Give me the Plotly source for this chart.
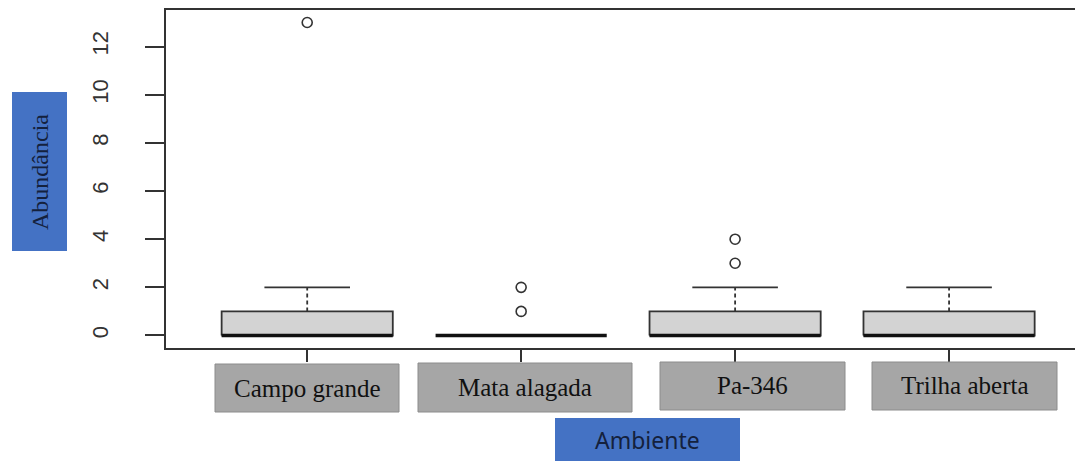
import plotly.graph_objects as go

# ---- data ----
categories = ["Campo grande", "Mata alagada", "Pa-346", "Trilha aberta"]
q1 = [0, 0, 0, 0]
median = [0, 0, 0, 0]
q3 = [1, 0, 1, 1]
whisker_low = [0, 0, 0, 0]
whisker_high = [2, 0, 2, 2]
outliers = [[13], [1, 2], [3, 4], []]
y_ticks = [0, 2, 4, 6, 8, 10, 12]
y_title = "Abundância"
x_title = "Ambiente"

OFF = 8  # default page body margin
W, H = 1083 - OFF, 461 - OFF
L, R, T, B = 166 - OFF, 0, 10 - OFF, 461 - 348
PW, PH = W - L - R, H - T - B

def px(x):
    return (x - OFF - L) / PW

def py(y):
    return (H - B - (y - OFF)) / PH

fig = go.Figure()
pos = list(range(1, len(categories) + 1))
half = 0.4
cap = 0.2
line_col = "#333333"

for i, p in enumerate(pos):
    if q3[i] > q1[i]:
        fig.add_trace(go.Scatter(
            x=[p - half, p + half, p + half, p - half, p - half],
            y=[q1[i], q1[i], q3[i], q3[i], q1[i]],
            mode="lines", fill="toself", fillcolor="#d3d3d3",
            line=dict(color=line_col, width=1.8), hoverinfo="skip", showlegend=False))
    if whisker_high[i] > q3[i]:
        fig.add_trace(go.Scatter(x=[p, p], y=[q3[i], whisker_high[i]], mode="lines",
                                 line=dict(color=line_col, width=1.8, dash="4px,3px"),
                                 hoverinfo="skip", showlegend=False))
        fig.add_trace(go.Scatter(x=[p - cap, p + cap], y=[whisker_high[i]] * 2, mode="lines",
                                 line=dict(color=line_col, width=1.6),
                                 hoverinfo="skip", showlegend=False))
    fig.add_trace(go.Scatter(x=[p - half, p + half], y=[median[i]] * 2, mode="lines",
                             line=dict(color="#111111", width=3.5),
                             hoverinfo="skip", showlegend=False))
    if outliers[i]:
        fig.add_trace(go.Scatter(x=[p] * len(outliers[i]), y=outliers[i], mode="markers",
                                 marker=dict(symbol="circle-open", size=10, color=line_col,
                                             line=dict(color=line_col, width=1.6)),
                                 hoverinfo="skip", showlegend=False))

shapes = []
annotations = []

# gray category label boxes (reference pixel rectangles)
label_boxes = [(215, 364, 399, 412), (418, 363, 632, 412), (660, 362, 845, 410), (872, 362, 1057, 410)]
for (x0, y0, x1, y1), cat in zip(label_boxes, categories):
    shapes.append(dict(type="rect", xref="paper", yref="paper",
                       x0=px(x0), x1=px(x1), y0=py(y1), y1=py(y0),
                       fillcolor="#a6a6a6", line=dict(color="#8c8c8c", width=1), layer="above"))
    annotations.append(dict(text=cat, xref="paper", yref="paper",
                            x=px((x0 + x1) / 2), y=py((y0 + y1) / 2),
                            xanchor="center", yanchor="middle", showarrow=False,
                            font=dict(family="Liberation Serif", size=25, color="#111111")))

# blue title boxes
shapes.append(dict(type="rect", xref="paper", yref="paper",
                   x0=px(12), x1=px(67), y0=py(251), y1=py(92),
                   fillcolor="#4472c4", line=dict(width=0), layer="above"))
annotations.append(dict(text=y_title, xref="paper", yref="paper", x=px(40), y=py(172),
                        xanchor="center", yanchor="middle", textangle=-90, showarrow=False,
                        font=dict(family="Liberation Serif", size=24, color="#14213d")))
shapes.append(dict(type="rect", xref="paper", yref="paper",
                   x0=px(555), x1=px(740), y0=py(461), y1=py(418),
                   fillcolor="#4472c4", line=dict(width=0), layer="above"))
annotations.append(dict(text=x_title, xref="paper", yref="paper", x=px(647), y=py(440),
                        xanchor="center", yanchor="middle", showarrow=False,
                        font=dict(family="Noto Sans", size=23, color="#14213d")))

fig.update_layout(
    width=W, height=H,
    margin=dict(l=L, r=R, t=T, b=B),
    paper_bgcolor="white", plot_bgcolor="white",
    shapes=shapes, annotations=annotations,
    xaxis=dict(range=[0.34, 4.626], tickvals=pos, ticktext=[""] * len(pos),
               ticks="outside", ticklen=12, tickwidth=2, tickcolor=line_col,
               showgrid=False, zeroline=False, showline=True, linecolor=line_col,
               linewidth=1.6, mirror=True),
    yaxis=dict(range=[-0.52, 13.52], tickvals=y_ticks, ticktext=[str(v) for v in y_ticks],
               ticks="outside", ticklen=19, tickwidth=1.6, tickcolor=line_col,
               tickangle=-90, ticklabelstandoff=28,
               tickfont=dict(family="Liberation Sans", size=22, color="#333333"),
               showgrid=False, zeroline=False, showline=True, linecolor=line_col,
               linewidth=1.6),
)

fig.write_html("out.html")
